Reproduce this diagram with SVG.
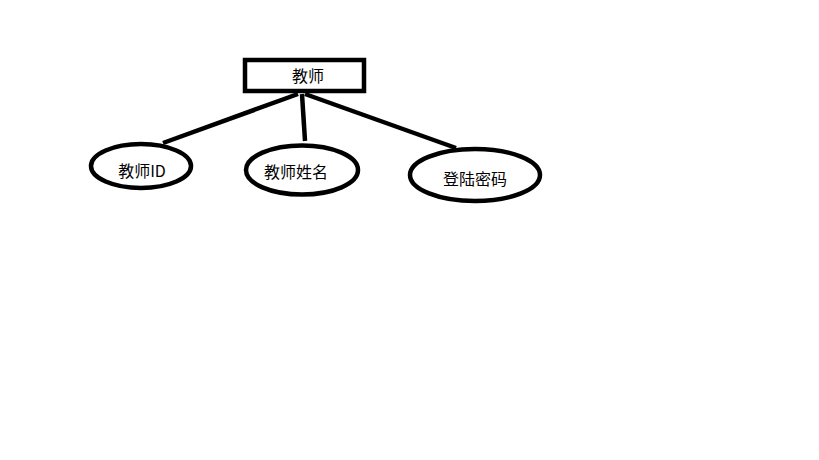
<svg xmlns="http://www.w3.org/2000/svg" width="819" height="460" viewBox="0 0 819 460">
<style>
.s{fill:none;stroke:#000;stroke-width:4.5}
.f{fill:#fff;stroke:#000;stroke-width:4.5}
text{font-family:"Noto Sans CJK SC","Liberation Sans",sans-serif;font-size:16px;fill:#000;text-anchor:middle}
</style>
<rect width="819" height="460" fill="#fff"/>
<g id="connectors">
<line class="s" x1="298" y1="94" x2="163" y2="143"/>
<line class="s" x1="302" y1="94" x2="305" y2="141"/>
<line class="s" x1="305" y1="94" x2="456" y2="148"/>
</g>
<g id="teacher">
<rect class="f" x="245" y="60" width="119" height="31"/>
<text x="308" y="82">教师</text>
</g>
<g id="teacher-id">
<ellipse class="f" cx="141" cy="166" rx="50" ry="22"/>
<text x="142" y="177">教师ID</text>
</g>
<g id="teacher-name">
<ellipse class="f" cx="302" cy="170" rx="56" ry="24.5"/>
<text x="296" y="178">教师姓名</text>
</g>
<g id="password">
<ellipse class="f" cx="475" cy="175" rx="65" ry="26"/>
<text x="475" y="185">登陆密码</text>
</g>
</svg>
